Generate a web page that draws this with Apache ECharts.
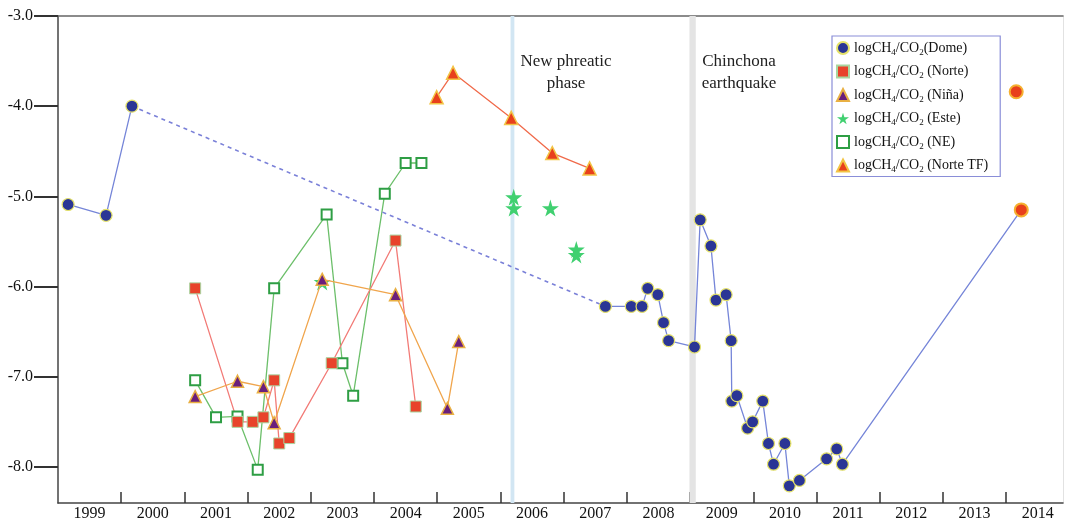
<!DOCTYPE html>
<html>
<head>
<meta charset="utf-8">
<script src="https://cdn.jsdelivr.net/npm/echarts@6/dist/echarts.min.js"></script>
<style>html,body{margin:0;padding:0;background:#fff;}#chart{width:1066px;height:522px;}</style>
</head>
<body>
<div id="chart"></div>
<script>
// ---- data ----
const yearLabels = [1999,2000,2001,2002,2003,2004,2005,2006,2007,2008,2009,2010,2011,2012,2013,2014];
const yTickValues = [-8,-7,-6,-5,-4,-3];

const domeX = [1999.16,1999.76,2000.17,2007.66,2008.07,2008.24,2008.33,2008.49,2008.58,2008.66,2009.07,2009.16,2009.33,2009.41,2009.57,2009.65,2009.66,2009.74,2009.91,2009.99,2010.15,2010.24,2010.32,2010.50,2010.57,2010.73,2011.16,2011.32,2011.41,2014.24];
const domeY = [-5.09,-5.21,-4.00,-6.22,-6.22,-6.22,-6.02,-6.09,-6.40,-6.60,-6.67,-5.26,-5.55,-6.15,-6.09,-6.60,-7.27,-7.21,-7.57,-7.50,-7.27,-7.74,-7.97,-7.74,-8.21,-8.15,-7.91,-7.80,-7.97,-5.15];
const domeGapAfter = 2; // dashed link between index 2 and 3

const norteX = [2001.17,2001.84,2002.08,2002.25,2002.42,2002.50,2002.66,2003.33,2004.34,2004.66];
const norteY = [-6.02,-7.50,-7.50,-7.45,-7.04,-7.74,-7.68,-6.85,-5.49,-7.33];

const ninaX = [2001.17,2001.84,2002.25,2002.42,2003.18,2004.34,2005.16,2005.34];
const ninaY = [-7.22,-7.05,-7.11,-7.51,-5.92,-6.09,-7.35,-6.61];

const esteX = [2003.18,2006.21,2006.21,2006.79,2007.20,2007.20];
const esteY = [-5.95,-5.01,-5.13,-5.13,-5.59,-5.65];

const neX = [2001.17,2001.50,2001.84,2002.16,2002.42,2003.25,2003.50,2003.67,2004.17,2004.50,2004.75];
const neY = [-7.04,-7.45,-7.44,-8.03,-6.02,-5.20,-6.85,-7.21,-4.97,-4.63,-4.63];

const norteTFX = [2004.99,2005.25,2006.17,2006.82,2007.41];
const norteTFY = [-3.90,-3.63,-4.13,-4.52,-4.69];

const red2014X = [2014.16,2014.24];
const red2014Y = [-3.84,-5.15];

const phreaticX = 2006.19;
const quakeX = 2009.04;

const legendText = {
  'Dome': 'logCH{s|4}/CO{s|2}(Dome)',
  'Norte': 'logCH{s|4}/CO{s|2} (Norte)',
  'Niña': 'logCH{s|4}/CO{s|2} (Niña)',
  'Este': 'logCH{s|4}/CO{s|2} (Este)',
  'NE': 'logCH{s|4}/CO{s|2} (NE)',
  'Norte TF': 'logCH{s|4}/CO{s|2} (Norte TF)'
};

// ---- build ----
const zip = (xs, ys) => xs.map((x, i) => [x, ys[i]]);
const domeData = [];
domeX.forEach((x, i) => { domeData.push([x, domeY[i]]); if (i === domeGapAfter) domeData.push(null); });
const dashedData = [[domeX[domeGapAfter], domeY[domeGapAfter]], [domeX[domeGapAfter+1], domeY[domeGapAfter+1]]];

const serif = "'Liberation Serif','DejaVu Serif',serif";
const starPath = 'path://M50,0 L61,35 L98,35 L68,57 L79,91 L50,70 L21,91 L32,57 L2,35 L39,35 Z';

const chart = echarts.init(document.getElementById('chart'), null, {renderer: 'canvas'});
const option = {
  animation: false,
  backgroundColor: '#fff',
  grid: {left: 58, right: 3, top: 16, bottom: 17, containLabel: false},
  xAxis: [{
    type: 'value', min: 1999, max: 2014.9, interval: 1,
    axisLine: {show: true, lineStyle: {color: '#444', width: 1.5}},
    axisTick: {show: true, inside: true, length: 11, customValues: yearLabels.slice(1), lineStyle: {color: '#333', width: 1.5}},
    axisLabel: {show: true, customValues: yearLabels.map(y => y + 0.5), formatter: v => String(Math.floor(v)),
      margin: 3, fontFamily: serif, fontSize: 16, color: '#111'},
    splitLine: {show: false}
  }, {
    type: 'value', position: 'top', min: 1999, max: 2014.9,
    axisLine: {show: true, lineStyle: {color: '#666', width: 1.5}},
    axisTick: {show: false}, axisLabel: {show: false}, splitLine: {show: false}
  }],
  yAxis: [{
    type: 'value', min: -8.4, max: -3,
    axisLine: {show: true, lineStyle: {color: '#444', width: 1.5}},
    axisTick: {show: true, inside: false, length: 24, customValues: yTickValues, lineStyle: {color: '#333', width: 2}},
    axisLabel: {show: true, customValues: yTickValues, formatter: v => v.toFixed(1), margin: 25,
      fontFamily: serif, fontSize: 16, color: '#111'},
    splitLine: {show: false}
  }, {
    type: 'value', position: 'right', min: -8.4, max: -3,
    axisLine: {show: true, lineStyle: {color: '#e2e2e2', width: 1}},
    axisTick: {show: false}, axisLabel: {show: false}, splitLine: {show: false}
  }],
  legend: {
    data: [
      {name: 'Dome', icon: 'circle'},
      {name: 'Norte', icon: 'rect'},
      {name: 'Niña', icon: 'triangle'},
      {name: 'Este', icon: starPath},
      {name: 'NE', icon: 'rect'},
      {name: 'Norte TF', icon: 'triangle'}
    ],
    orient: 'vertical', left: 832, top: 36,
    padding: [3, 12, 2, 4],
    itemWidth: 12, itemHeight: 12, itemGap: 5.5,
    borderColor: '#8a8ed8', borderWidth: 1.2,
    formatter: name => legendText[name],
    textStyle: {fontFamily: serif, fontSize: 14, color: '#111', lineHeight: 18,
      rich: {s: {fontFamily: serif, fontSize: 9, verticalAlign: 'bottom', lineHeight: 18, color: '#111'}}}
  },
  graphic: [
    {type: 'text', x: 566, y: 51, style: {text: 'New phreatic\nphase', align: 'center', font: "17px 'Liberation Serif', serif", lineHeight: 22, fill: '#222'}, z: 10},
    {type: 'text', x: 739, y: 51, style: {text: 'Chinchona\nearthquake', align: 'center', font: "17px 'Liberation Serif', serif", lineHeight: 22, fill: '#222'}, z: 10}
  ],
  series: [
    {
      name: 'NE', type: 'line', data: zip(neX, neY),
      symbol: 'rect', symbolSize: 10,
      itemStyle: {color: '#ffffff', borderColor: '#2e9e44', borderWidth: 2},
      lineStyle: {color: '#6cbf6a', width: 1.3},
      markArea: {
        silent: true, z: 1,
        data: [
          [{xAxis: phreaticX - 0.03, itemStyle: {color: '#d2e6f3'}}, {xAxis: phreaticX + 0.03}],
          [{xAxis: quakeX - 0.05, itemStyle: {color: '#e4e4e4'}}, {xAxis: quakeX + 0.05}]
        ]
      }
    },
    {
      name: 'Este', type: 'scatter', data: zip(esteX, esteY),
      symbol: starPath, symbolSize: 17,
      itemStyle: {color: '#40d070', opacity: 1}
    },
    {
      name: 'Norte', type: 'line', data: zip(norteX, norteY),
      symbol: 'rect', symbolSize: 11,
      itemStyle: {color: '#e8432b', borderColor: '#a9d6a0', borderWidth: 1},
      lineStyle: {color: '#f27a76', width: 1.3}
    },
    {
      name: 'Niña', type: 'line', data: zip(ninaX, ninaY),
      symbol: 'triangle', symbolSize: 12,
      itemStyle: {color: '#6a1f7c', borderColor: '#e9b043', borderWidth: 1.5},
      lineStyle: {color: '#f0a54c', width: 1.3}
    },
    {
      name: 'Norte TF', type: 'line', data: zip(norteTFX, norteTFY),
      symbol: 'triangle', symbolSize: 13,
      itemStyle: {color: '#e8401c', borderColor: '#f2c445', borderWidth: 1.5},
      lineStyle: {color: '#f06a4a', width: 1.3}
    },
    {
      name: 'Dome link', type: 'line', data: dashedData, symbol: 'none',
      lineStyle: {color: '#7a80d8', width: 1.6, type: [4, 4]}
    },
    {
      name: 'Dome', type: 'line', data: domeData, connectNulls: false,
      symbol: 'circle', symbolSize: 12,
      itemStyle: {color: '#2a3595', borderColor: '#e4e16a', borderWidth: 1.2},
      lineStyle: {color: '#7585d8', width: 1.3}
    },
    {
      name: '2014', type: 'scatter', data: zip(red2014X, red2014Y), z: 5,
      symbol: 'circle', symbolSize: 13,
      itemStyle: {color: '#e8401c', borderColor: '#f5b030', borderWidth: 2, opacity: 1}
    }
  ]
};
chart.setOption(option);
</script>
</body>
</html>
